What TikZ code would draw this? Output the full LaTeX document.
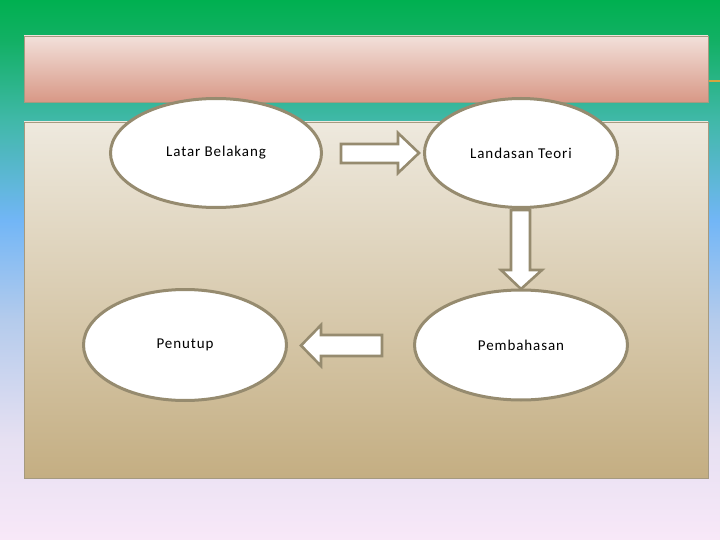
\documentclass[tikz,border=0pt]{standalone}
\usepackage{fontspec}
\newfontfamily\lblfont{Carlito}[LetterSpace=6]
\definecolor{bga}{HTML}{00B050}
\definecolor{bgb}{HTML}{12B064}
\definecolor{bgc}{HTML}{40B8A8}
\definecolor{bgd}{HTML}{72B6F6}
\definecolor{bge}{HTML}{B4CBEC}
\definecolor{bgf}{HTML}{E6E0F2}
\definecolor{bgg}{HTML}{F8E8F8}
\definecolor{titletop}{HTML}{F2E0DA}
\definecolor{titlebot}{HTML}{D89886}
\definecolor{boxtop}{HTML}{EEE9DE}
\definecolor{boxbot}{HTML}{C4AE82}
\definecolor{rim}{HTML}{968B6F}
\definecolor{frame}{HTML}{A59A80}
\definecolor{accent}{HTML}{D4A540}
\pgfdeclareverticalshading{bgsh}{100bp}{color(0bp)=(bgg); color(25bp)=(bgg); color(34.3bp)=(bgf); color(45.4bp)=(bge); color(54.6bp)=(bgd); color(63.9bp)=(bgc); color(71.3bp)=(bgb); color(75bp)=(bga); color(100bp)=(bga)}
\tikzset{
  ell/.style={ellipse, draw=rim, line width=3pt, fill=white, inner sep=0pt,
    font=\lblfont\fontsize{15}{17}\selectfont, text=black},
  blockarrow/.style={draw=rim, line width=2.6pt, fill=white, line join=miter}
}
\usetikzlibrary{shapes.geometric}
\begin{document}
\begin{tikzpicture}[x=1pt,y=-1pt]
\useasboundingbox (0,0) rectangle (720,540);
\shade[shading=bgsh] (0,0) rectangle (720,540);
% title bar
\shade[top color=titletop, bottom color=titlebot] (24,36) rectangle (708,102);
\draw[frame, line width=0.8pt] (24,36) rectangle (708,102);
\draw[accent, line width=2pt] (708.5,81) -- (720,81);
% main box
\shade[top color=boxtop, bottom color=boxbot] (24,122) rectangle (708,478);
\draw[frame, line width=0.8pt] (24,122) rectangle (708,478);
% ellipses
\node[ell, minimum width=211pt, minimum height=109pt] (latar) at (216,153) {Latar Belakang};
\node[ell, minimum width=193pt, minimum height=109pt] (landasan) at (521,153) {Landasan Teori};
\node[ell, minimum width=213pt, minimum height=110pt] (pembahasan) at (521,345) {Pembahasan};
\node[ell, minimum width=203pt, minimum height=111pt] (penutup) at (185,345) {Penutup};
% block arrows
\draw[blockarrow] (341,144) -- (398,144) -- (398,133) -- (419,153) -- (398,173) -- (398,163) -- (341,163) -- cycle;
\draw[blockarrow] (511,210) -- (530,210) -- (530,270) -- (542,270) -- (521,289) -- (501,270) -- (511,270) -- cycle;
\draw[blockarrow] (382,335) -- (321,335) -- (321,325) -- (301,345.5) -- (321,366) -- (321,356) -- (382,356) -- cycle;
\end{tikzpicture}
\end{document}
